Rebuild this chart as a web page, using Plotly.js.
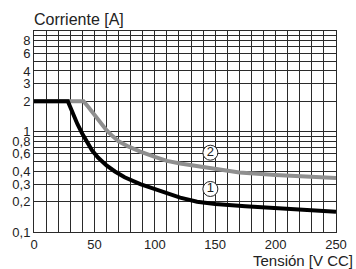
<!DOCTYPE html>
<html><head><meta charset="utf-8">
<script src="https://cdn.plot.ly/plotly-3.0.1.min.js"></script>
<style>html,body{margin:0;padding:0;background:#fff}#c{width:356px;height:269px}</style>
</head><body><div id="c"></div>
<script>
// Curve 1 (black)
const v1 = [0, 28, 30, 33, 36, 40, 44, 48, 53, 60, 67, 75, 88, 100, 110, 121, 135, 150, 175, 200, 225, 250];
const i1 = [2, 2, 1.75, 1.42, 1.18, 0.95, 0.78, 0.65, 0.55, 0.46, 0.40, 0.35, 0.30, 0.27, 0.245, 0.22, 0.20, 0.19, 0.18, 0.172, 0.166, 0.159];
// Curve 2 (grey)
const v2 = [0, 41, 45, 50, 55, 60, 65, 70, 78, 88, 100, 110, 121, 137, 150, 170, 200, 225, 250];
const i2 = [2, 2, 1.75, 1.45, 1.2, 1.03, 0.9, 0.8, 0.71, 0.63, 0.56, 0.51, 0.48, 0.447, 0.42, 0.39, 0.37, 0.355, 0.345];
// Axis ticks
const yTickVals = [0.1, 0.2, 0.3, 0.4, 0.6, 0.8, 1, 2, 3, 4, 6, 8];
const yTickText = ["0,1", "0,2", "0,3", "0,4", "0,6", "0,8", "1", "2", "3", "4", "6", "8"];
const yGridVals = [0.1, 0.2, 0.3, 0.4, 0.5, 0.6, 0.7, 0.8, 0.9, 1, 2, 3, 4, 5, 6, 7, 8, 9, 10];
const xTickVals = [0, 50, 100, 150, 200, 250];
// Curve labels
const labelText = ["1", "2"];
const labelX = [146, 146];
const labelY = [0.268, 0.615];

const gridC = '#2a2a2a';
const font = {family: 'Liberation Sans, Arial, sans-serif', size: 13, color: '#222'};

const data = [
  {x: v2, y: i2, mode: 'lines', line: {color: '#8f8f8f', width: 4}, hoverinfo: 'skip'},
  {x: v1, y: i1, mode: 'lines', line: {color: '#000', width: 4}, hoverinfo: 'skip'},
  {x: labelX, y: labelY, mode: 'markers+text', text: labelText, textposition: 'middle center',
   textfont: {family: font.family, size: 13, color: '#222'},
   marker: {symbol: 'circle', size: 15, color: '#fff', line: {color: '#222', width: 1}}, hoverinfo: 'skip'}
];

const layout = {
  width: 356, height: 269,
  margin: {l: 34, r: 20, t: 31, b: 37},
  showlegend: false,
  paper_bgcolor: '#fff', plot_bgcolor: '#fff',
  font: font,
  xaxis: {
    range: [0, 250], tickvals: xTickVals, ticks: '', showgrid: true, gridcolor: gridC, gridwidth: 1,
    minor: {dtick: 10, showgrid: true, gridcolor: gridC, gridwidth: 1},
    zeroline: false, showline: true, linecolor: gridC, linewidth: 1, mirror: true,
    tickfont: font, fixedrange: true
  },
  yaxis: {
    type: 'log', range: [-1, 1], tickvals: yTickVals, ticktext: yTickText, ticks: '',
    showgrid: true, gridcolor: gridC, gridwidth: 1,
    minor: {tickvals: yGridVals, showgrid: true, gridcolor: gridC, gridwidth: 1},
    zeroline: false, showline: true, linecolor: gridC, linewidth: 1, mirror: true,
    tickfont: font, fixedrange: true
  },
  annotations: [
    {text: 'Corriente [A]', xref: 'paper', yref: 'paper', x: -0.005, y: 1.055, xanchor: 'left', yanchor: 'middle',
     showarrow: false, font: {family: font.family, size: 16, color: '#222'}},
    {text: 'Tensión [V CC]', xref: 'paper', yref: 'paper', x: 1.063, y: -0.144, xanchor: 'right', yanchor: 'middle',
     showarrow: false, font: {family: font.family, size: 15, color: '#222'}}
  ]
};

Plotly.newPlot('c', data, layout, {staticPlot: true, displayModeBar: false});
</script></body></html>
